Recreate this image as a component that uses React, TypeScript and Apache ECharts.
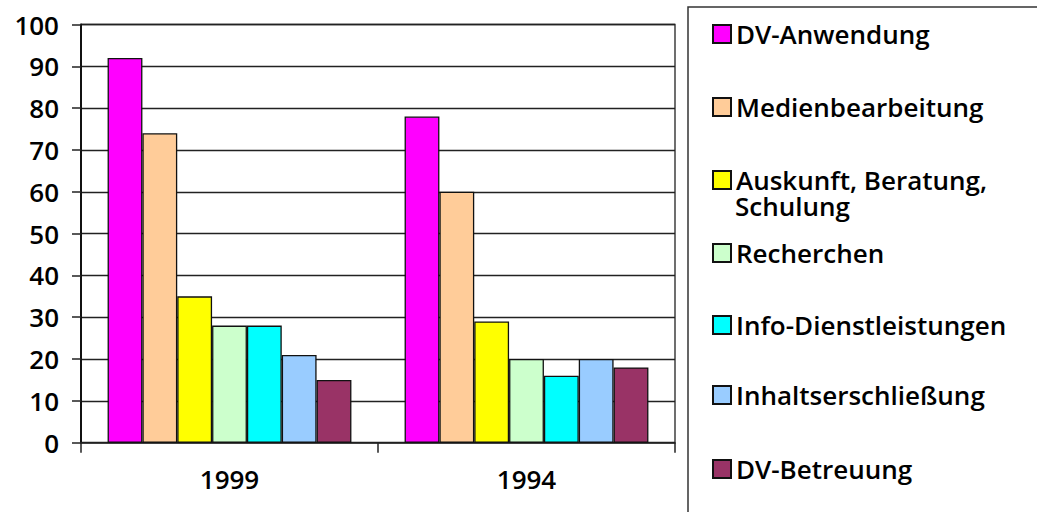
import React, { useEffect, useRef } from "react";
import * as echarts from "echarts";

const categories = ["1999", "1994"];
const seriesNames = [
  "DV-Anwendung",
  "Medienbearbeitung",
  "Auskunft, Beratung, Schulung",
  "Recherchen",
  "Info-Dienstleistungen",
  "Inhaltserschließung",
  "DV-Betreuung",
];
const dvAnwendung = [92, 78];
const medienbearbeitung = [74, 60];
const auskunft = [35, 29];
const recherchen = [28, 20];
const infoDienst = [28, 16];
const inhaltserschliessung = [21, 20];
const dvBetreuung = [15, 18];
const seriesValues = [dvAnwendung, medienbearbeitung, auskunft, recherchen, infoDienst, inhaltserschliessung, dvBetreuung];
const colors = ["#FF00FF", "#FFCC99", "#FFFF00", "#CCFFCC", "#00FFFF", "#99CCFF", "#993366"];
const yTicks = [0, 10, 20, 30, 40, 50, 60, 70, 80, 90, 100];
const legendTops = [21, 94, 167, 240, 312, 382, 456];

const FONT = "Open Sans";

export default function App() {
  const ref = useRef<HTMLDivElement>(null);
  useEffect(() => {
    if (!ref.current) return;
    const chart = echarts.init(ref.current, null, { renderer: "svg" });
    const option: any = {
      animation: false,
      backgroundColor: "#ffffff",
      textStyle: { fontFamily: FONT },
      grid: {
        left: 81,
        top: 24.5,
        right: 362,
        bottom: 69.3,
        show: true,
        borderColor: "#222",
        borderWidth: 1.3,
        backgroundColor: "transparent",
      },
      xAxis: {
        type: "category",
        data: categories,
        boundaryGap: true,
        axisLine: { lineStyle: { color: "#222", width: 1.5 } },
        axisTick: { show: true, length: 10, lineStyle: { color: "#222", width: 1.5 } },
        axisLabel: { color: "#000", fontSize: 26, fontWeight: 600, fontFamily: FONT, margin: 23 },
      },
      yAxis: {
        type: "value",
        min: yTicks[0],
        max: yTicks[yTicks.length - 1],
        interval: 10,
        axisLine: { show: true, lineStyle: { color: "#111", width: 2 } },
        axisTick: { show: true, length: 9, lineStyle: { color: "#222", width: 1.5 } },
        splitLine: { show: true, lineStyle: { color: "#222", width: 1.3 } },
        axisLabel: { color: "#000", fontSize: 26, fontWeight: 600, fontFamily: FONT, margin: 22 },
      },
      legend: seriesNames.map((name, i) => ({
        data: [name],
        left: 712,
        top: legendTops[i],
        orient: "vertical",
        icon: "rect",
        itemWidth: 18,
        itemHeight: 18,
        padding: 0,
        selectedMode: false,
        formatter: (n: string) => (n === "Auskunft, Beratung, Schulung" ? "Auskunft, Beratung," : n),
        textStyle: { color: "#000", fontSize: 26, fontWeight: 600, fontFamily: FONT, lineHeight: 24 },
      })),
      graphic: [
        {
          type: "rect",
          shape: { x: 688, y: 7, width: 420, height: 530 },
          style: { fill: "none", stroke: "#333", lineWidth: 1.5 },
          silent: true,
        },
        {
          type: "text",
          x: 735,
          y: 206,
          style: {
            text: "Schulung",
            fill: "#000",
            font: `600 26px "${FONT}"`,
            lineHeight: 24,
            verticalAlign: "middle",
            align: "left",
          },
        },
      ],
      series: seriesNames.map((name, i) => ({
        name,
        type: "bar",
        data: seriesValues[i],
        barGap: "0%",
        barCategoryGap: "17.9%",
        itemStyle: { color: colors[i], borderColor: "#111", borderWidth: 1.3 },
      })),
    };
    chart.setOption(option);
    return () => chart.dispose();
  }, []);
  return <div ref={ref} style={{ position: "fixed", left: 0, top: 0, width: 1037, height: 512 }} />;
}
